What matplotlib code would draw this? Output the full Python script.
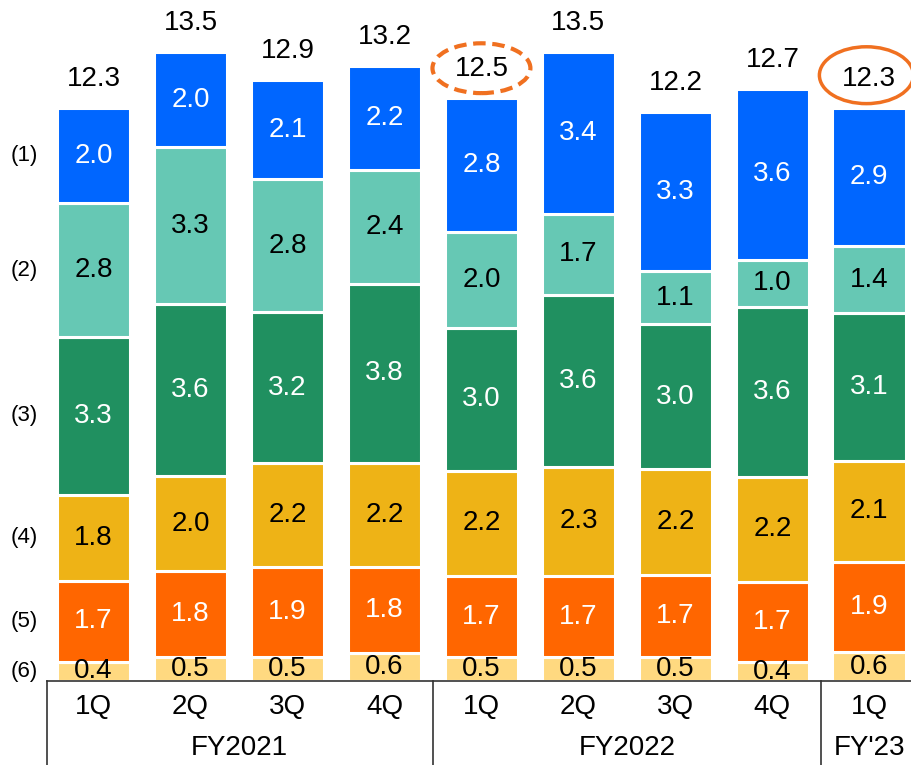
import matplotlib.pyplot as plt
from matplotlib.patches import Ellipse
import numpy as np

plt.rcParams['font.family'] = ['Liberation Sans', 'DejaVu Sans']

# Dane (wartosci z etykiet, od dolu: (6) ... (1))
quarters = ["1Q", "2Q", "3Q", "4Q", "1Q", "2Q", "3Q", "4Q", "1Q"]
groups = ["FY2021", "FY2022", "FY'23"]
group_span = [(0, 3), (4, 7), (8, 8)]
seg6 = [0.4, 0.5, 0.5, 0.6, 0.5, 0.5, 0.5, 0.4, 0.6]
seg5 = [1.7, 1.8, 1.9, 1.8, 1.7, 1.7, 1.7, 1.7, 1.9]
seg4 = [1.8, 2.0, 2.2, 2.2, 2.2, 2.3, 2.2, 2.2, 2.1]
seg3 = [3.3, 3.6, 3.2, 3.8, 3.0, 3.6, 3.0, 3.6, 3.1]
seg2 = [2.8, 3.3, 2.8, 2.4, 2.0, 1.7, 1.1, 1.0, 1.4]
seg1 = [2.0, 2.0, 2.1, 2.2, 2.8, 3.4, 3.3, 3.6, 2.9]
totals = [12.3, 13.5, 12.9, 13.2, 12.5, 13.5, 12.2, 12.7, 12.3]
row_names = ["(6)", "(5)", "(4)", "(3)", "(2)", "(1)"]

segments = [seg6, seg5, seg4, seg3, seg2, seg1]
colors = ["#FFD980", "#FF6600", "#EEB316", "#209060", "#66C8B4", "#0066FF"]
txt_colors = ["black", "white", "black", "white", "black", "white"]

fig = plt.figure(figsize=(9.12, 7.65), dpi=100)
ax = fig.add_axes([47 / 912, 84 / 765, 865 / 912, 681 / 765])

x = np.arange(len(quarters))
vals = np.array(segments)
# skalowanie zaokraglonych etykiet do sumy z wykresu
scale = np.array(totals) / vals.sum(axis=0)
heights = vals * scale

bottom = np.zeros(len(x))
for k in range(len(segments)):
    ax.bar(x, heights[k], 0.76, bottom=bottom, color=colors[k],
           edgecolor="white", linewidth=2.2)
    for i in range(len(x)):
        ax.text(x[i], bottom[i] + heights[k][i] / 2, f"{vals[k][i]:.1f}",
                ha="center", va="center", fontsize=20, color=txt_colors[k])
    # nazwy wierszy po lewej, na wysokosci pierwszego slupka
    ax.text(-0.71, bottom[0] + heights[k][0] / 2, row_names[k],
            ha="center", va="center", fontsize=16, clip_on=False)
    bottom = bottom + heights[k]

for i in range(len(x)):
    ax.annotate(f"{totals[i]:.1f}", (x[i], totals[i]), xytext=(0, 16),
                textcoords="offset points", ha="center", va="baseline",
                fontsize=20, annotation_clip=False)

# elipsy
ax.add_patch(Ellipse((4, 13.15), 1.01, 1.07, fill=False, edgecolor="#F07020",
                     linewidth=3, linestyle=(0, (3, 1.6)), clip_on=False))
ax.add_patch(Ellipse((7.97, 13.0), 0.97, 1.22, fill=False, edgecolor="#F07020",
                     linewidth=2.5, clip_on=False))

ax.set_xlim(-0.48, 8.44)
ax.set_ylim(0, 681 / 46.6)
for s in ["top", "right", "left"]:
    ax.spines[s].set_visible(False)
ax.spines["bottom"].set_color("#333333")
ax.spines["bottom"].set_linewidth(1.2)
ax.set_xticks([])
ax.set_yticks([])

tr = ax.get_xaxis_transform()
for i in range(len(x)):
    ax.text(x[i], -26 / 681, quarters[i], transform=tr, ha="center",
            va="center", fontsize=20)
for g, (a, b) in zip(groups, group_span):
    ax.text((a + b) / 2, -67 / 681, g, transform=tr, ha="center",
            va="center", fontsize=20)
for xs in [-0.48, 3.5, 7.5]:
    ax.plot([xs, xs], [0, -84 / 681], transform=tr, color="#333333",
            linewidth=1.2, clip_on=False)

plt.savefig("out.png", dpi=100)
